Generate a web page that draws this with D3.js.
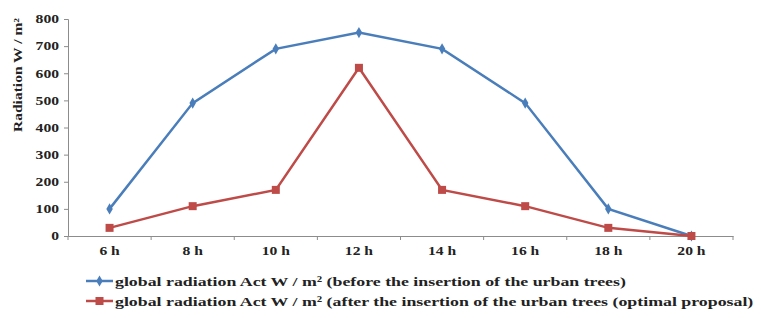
<!DOCTYPE html>
<html lang="en">
<head>
<meta charset="UTF-8">
<title>Global radiation</title>
<script src="https://d3js.org/d3.v7.min.js"></script>
<style>
  body { margin: 0; background: #fff; }
  text { font-family: "Liberation Serif", "Times New Roman", serif; font-weight: bold; }
</style>
</head>
<body>
<div class="svg-container"></div>
<script>
// data
const hours = ["6 h", "8 h", "10 h", "12 h", "14 h", "16 h", "18 h", "20 h"];
const before = [100, 490, 690, 750, 690, 490, 100, 0];
const after = [30, 110, 170, 620, 170, 110, 30, 0];
const yTicks = [0, 100, 200, 300, 400, 500, 600, 700, 800];
const seriesNames = [
  "global radiation Act W / m\u00b2 (before the insertion of the urban trees)",
  "global radiation Act W / m\u00b2 (after the insertion of the urban trees (optimal proposal)"
];

const W = 761, H = 318;
const margin = { top: 19, right: 28, bottom: 82, left: 68 };
const width = W - margin.left - margin.right;
const height = H - margin.top - margin.bottom;

const blue = "#4a7ebb", red = "#be4b48", axisCol = "#8c8c8c";

// the source picture is stretched sideways, so widen the text the same way
function stretch(sel, k) {
  sel.each(function() {
    const len = this.getComputedTextLength();
    d3.select(this).attr("textLength", len * k).attr("lengthAdjust", "spacingAndGlyphs");
  });
}

const svg = d3.select(".svg-container")
  .append("svg")
    .attr("width", W)
    .attr("height", H)
  .append("g")
    .attr("transform", "translate(" + margin.left + "," + margin.top + ")");

const x = d3.scaleBand().domain(hours).range([0, width]);
const y = d3.scaleLinear().domain([0, 800]).range([height, 0]);

// y axis
const yAxis = svg.append("g")
  .call(d3.axisLeft(y).tickValues(yTicks).tickSize(4).tickPadding(5));
yAxis.select(".domain").attr("stroke", axisCol);
yAxis.selectAll(".tick line").attr("stroke", axisCol);
yAxis.selectAll("text").style("font-size", "12px").attr("fill", "#222").call(stretch, 1.3);

// x axis, ticks at category boundaries
const xAxis = svg.append("g")
  .attr("transform", "translate(0," + height + ")")
  .call(d3.axisBottom(x).tickSize(0).tickPadding(10));
xAxis.select(".domain").attr("stroke", axisCol);
xAxis.selectAll("text").style("font-size", "12px").attr("fill", "#222").call(stretch, 1.3);
svg.append("g")
  .selectAll("line")
  .data(d3.range(hours.length + 1))
  .enter()
  .append("line")
    .attr("x1", i => i * x.step())
    .attr("x2", i => i * x.step())
    .attr("y1", height)
    .attr("y2", height + 4)
    .attr("stroke", axisCol);

// y title
svg.append("text")
  .attr("transform", "translate(" + (-46) + "," + 56 + ")rotate(-90)")
  .attr("text-anchor", "middle")
  .style("font-size", "13px")
  .attr("fill", "#222")
  .attr("textLength", 114)
  .attr("lengthAdjust", "spacingAndGlyphs")
  .text("Radiation W / m\u00b2");

const cx = d => x(d) + x.bandwidth() / 2;
const line = d3.line()
  .x((d, i) => cx(hours[i]))
  .y(d => y(d));

// blue series
svg.append("path")
  .datum(before)
  .attr("fill", "none")
  .attr("stroke", blue)
  .attr("stroke-width", 2.5)
  .attr("d", line);
svg.selectAll(".bmark")
  .data(before)
  .enter()
  .append("path")
    .attr("class", "bmark")
    .attr("transform", (d, i) => "translate(" + cx(hours[i]) + "," + y(d) + ")")
    .attr("d", d3.symbol(d3.symbolDiamond, 36))
    .attr("fill", blue);

// red series
svg.append("path")
  .datum(after)
  .attr("fill", "none")
  .attr("stroke", red)
  .attr("stroke-width", 2.5)
  .attr("d", line);
svg.selectAll(".rmark")
  .data(after)
  .enter()
  .append("rect")
    .attr("class", "rmark")
    .attr("x", (d, i) => cx(hours[i]) - 4)
    .attr("y", d => y(d) - 4)
    .attr("width", 8)
    .attr("height", 8)
    .attr("fill", red);

// legend
const legend = svg.append("g")
  .attr("transform", "translate(" + (86 - margin.left) + "," + (281 - margin.top) + ")");
const items = legend.selectAll("g")
  .data(seriesNames)
  .enter()
  .append("g")
    .attr("transform", (d, i) => "translate(0," + i * 20 + ")");
items.append("line")
  .attr("x1", 0).attr("x2", 27)
  .attr("stroke", (d, i) => i ? red : blue)
  .attr("stroke-width", 2.5);
items.filter((d, i) => i === 0).append("path")
  .attr("transform", "translate(13.5,0)")
  .attr("d", d3.symbol(d3.symbolDiamond, 36))
  .attr("fill", blue);
items.filter((d, i) => i === 1).append("rect")
  .attr("x", 9.5).attr("y", -4).attr("width", 8).attr("height", 8)
  .attr("fill", red);
items.append("text")
  .attr("x", 29)
  .attr("dy", "0.35em")
  .style("font-size", "13.5px")
  .attr("fill", "#222")
  .text(d => d)
  .call(stretch, 1.32);
</script>
</body>
</html>
